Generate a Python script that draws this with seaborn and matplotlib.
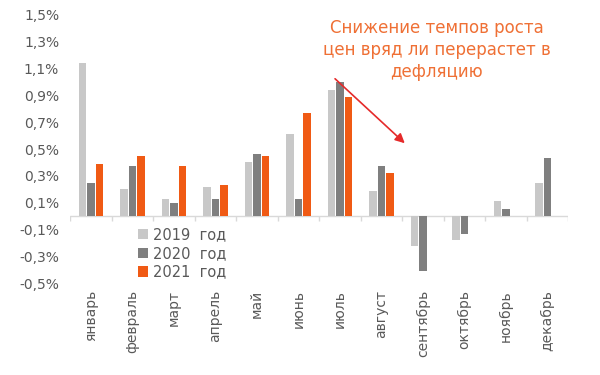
import matplotlib; matplotlib.use('Agg')
import numpy as np
import pandas as pd
import seaborn as sns
import matplotlib.pyplot as plt

months = ['январь', 'февраль', 'март', 'апрель', 'май', 'июнь',
          'июль', 'август', 'сентябрь', 'октябрь', 'ноябрь', 'декабрь']
years = ['2019  год', '2020  год', '2021  год']
v2019 = [1.14, 0.20, 0.13, 0.22, 0.40, 0.61, 0.94, 0.19, -0.22, -0.18, 0.11, 0.25]
v2020 = [0.25, 0.37, 0.10, 0.13, 0.46, 0.13, 1.00, 0.37, -0.41, -0.13, 0.05, 0.43]
v2021 = [0.39, 0.45, 0.37, 0.23, 0.45, 0.77, 0.89, 0.32, np.nan, np.nan, np.nan, np.nan]
yticks = [-0.5, -0.3, -0.1, 0.1, 0.3, 0.5, 0.7, 0.9, 1.1, 1.3, 1.5]

df = pd.DataFrame({
    'month': months * 3,
    'year': [years[0]] * 12 + [years[1]] * 12 + [years[2]] * 12,
    'value': v2019 + v2020 + v2021,
}).dropna()

sns.set_style('white')
plt.rcParams['font.family'] = ['DejaVu Sans']

fig = plt.figure(figsize=(6, 3.75), dpi=100)
ax = fig.add_axes([0.117, 0.245, 0.83, 0.715])

palette = ['#c8c8c8', '#7f7f7f', '#f05a14']
sns.barplot(data=df, x='month', y='value', hue='year', order=months,
            hue_order=years, palette=palette, width=0.62, gap=0.15,
            saturation=1, linewidth=0, ax=ax)

ax.set_ylim(-0.5, 1.5)
ax.set_xlim(-0.5, len(months) - 0.5)
ax.set_yticks(yticks)
ax.set_yticklabels([f"{t:.1f}%".replace('.', ',') for t in yticks])
ax.tick_params(axis='y', length=0, labelsize=10, labelcolor='#595959', pad=8)
ax.tick_params(axis='x', length=0, labelsize=10, labelcolor='#595959', pad=5)
ax.set_xticks(range(len(months)))
ax.set_xticklabels(months, rotation=90, va='top')
ax.set_xlabel('')
ax.set_ylabel('')
for s in ax.spines.values():
    s.set_visible(False)

# zero line with category separators
ax.axhline(0, color='#d9d9d9', lw=1, zorder=0)
bounds = np.arange(len(months) + 1) - 0.5
ax.vlines(bounds, -0.04, 0, color='#d9d9d9', lw=1, zorder=0)

leg = ax.legend(loc='upper left', bbox_to_anchor=(0.125, 0.23), frameon=False,
                fontsize=10.5, handlelength=0.7, handleheight=0.7,
                handletextpad=0.3, labelspacing=0.25, borderaxespad=0)
for t in leg.get_texts():
    t.set_color('#595959')

fig.text(0.728, 0.95, 'Снижение темпов роста\nцен вряд ли перерастет в\nдефляцию',
         ha='center', va='top', fontsize=12, color='#ef7035', linespacing=1.3)
ax.annotate('', xy=(0.678, 0.613), xycoords='figure fraction',
            xytext=(0.555, 0.795), textcoords='figure fraction',
            arrowprops=dict(arrowstyle='-|>', color='#e52a2a', lw=1.2,
                            mutation_scale=14))

fig.savefig('out.png', dpi=100)
